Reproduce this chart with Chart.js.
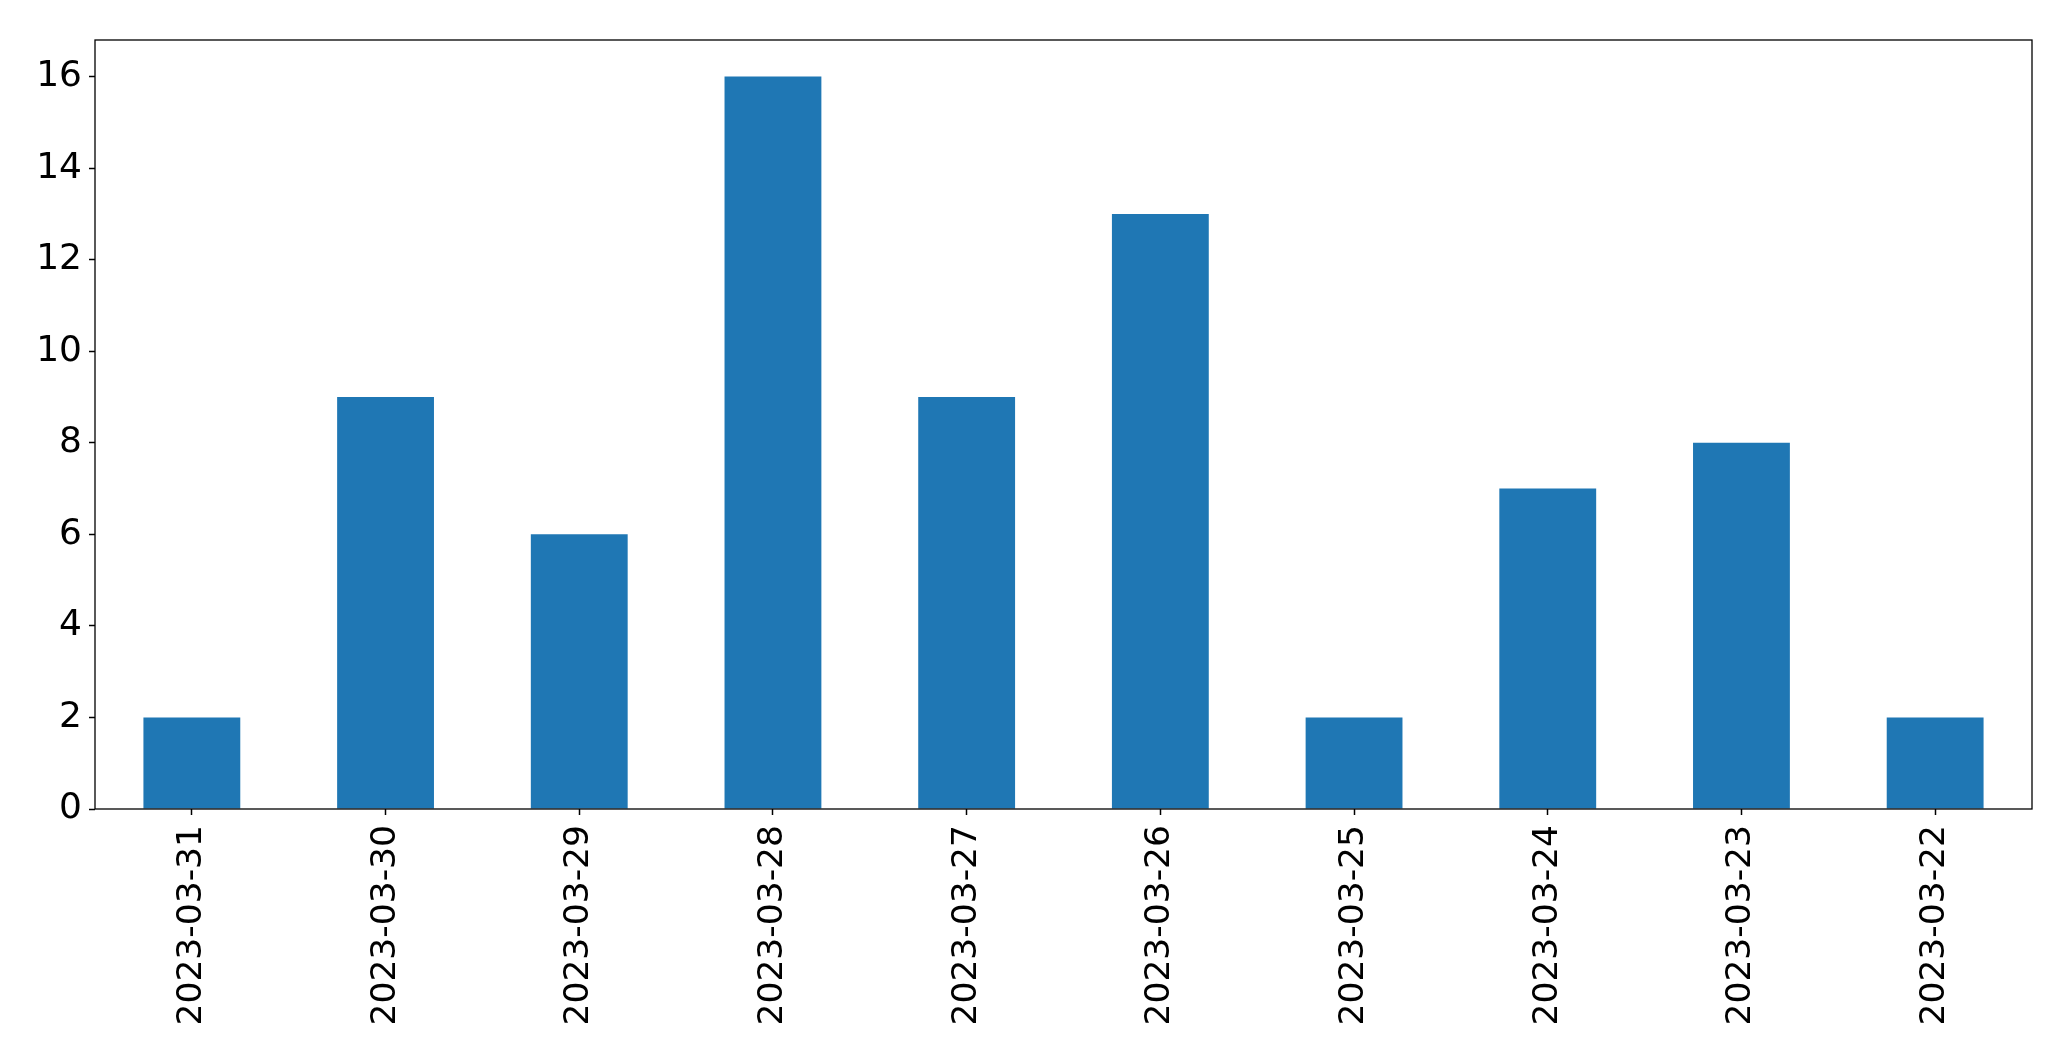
<!DOCTYPE html>
<html>
<head>
<meta charset="utf-8">
<script src="https://cdn.jsdelivr.net/npm/chart.js@4"></script>
<style>
  html, body { margin: 0; padding: 0; background: #fff; }
</style>
</head>
<body>
<canvas id="grafico" width="2071" height="1061"></canvas>
<script>
const datas = ["2023-03-31", "2023-03-30", "2023-03-29", "2023-03-28", "2023-03-27",
               "2023-03-26", "2023-03-25", "2023-03-24", "2023-03-23", "2023-03-22"];
const contagens = [2, 9, 6, 16, 9, 13, 2, 7, 8, 2];
const yTicks = [0, 2, 4, 6, 8, 10, 12, 14, 16];
const yMax = 16.8;

Chart.defaults.font.family = "DejaVu Sans";
Chart.defaults.color = "#000";

// moldura em volta da area do grafico (estilo matplotlib)
const moldura = {
  id: "moldura",
  afterDraw(chart) {
    const { ctx, chartArea: a } = chart;
    ctx.save();
    ctx.strokeStyle = "#000";
    ctx.lineWidth = 1.3;
    ctx.strokeRect(a.left, a.top, a.right - a.left, a.bottom - a.top);
    ctx.restore();
  }
};

new Chart(document.getElementById("grafico"), {
  type: "bar",
  data: {
    labels: datas,
    datasets: [{
      data: contagens,
      backgroundColor: "#1f77b4",
      borderWidth: 0,
      barPercentage: 0.5,
      categoryPercentage: 1.0
    }]
  },
  options: {
    responsive: false,
    animation: false,
    layout: { padding: { top: 40, right: 39, left: 0, bottom: 0 } },
    plugins: { legend: { display: false }, tooltip: { enabled: false } },
    scales: {
      x: {
        offset: true,
        grid: { display: true, drawOnChartArea: false, tickLength: 6, tickColor: "#000", tickWidth: 1.5, offset: false },
        border: { display: false },
        ticks: { font: { size: 34.5 }, minRotation: 90, maxRotation: 90, padding: 10, autoSkip: false },
        afterFit(scale) { scale.height = 252; }
      },
      y: {
        min: 0,
        max: yMax,
        grid: { display: true, drawOnChartArea: false, tickLength: 6, tickColor: "#000", tickWidth: 1.5 },
        border: { display: false },
        ticks: { font: { size: 36 }, padding: 7 },
        afterBuildTicks(scale) { scale.ticks = yTicks.map(v => ({ value: v })); },
        afterFit(scale) { scale.width = 95; }
      }
    }
  },
  plugins: [moldura]
});
</script>
</body>
</html>
